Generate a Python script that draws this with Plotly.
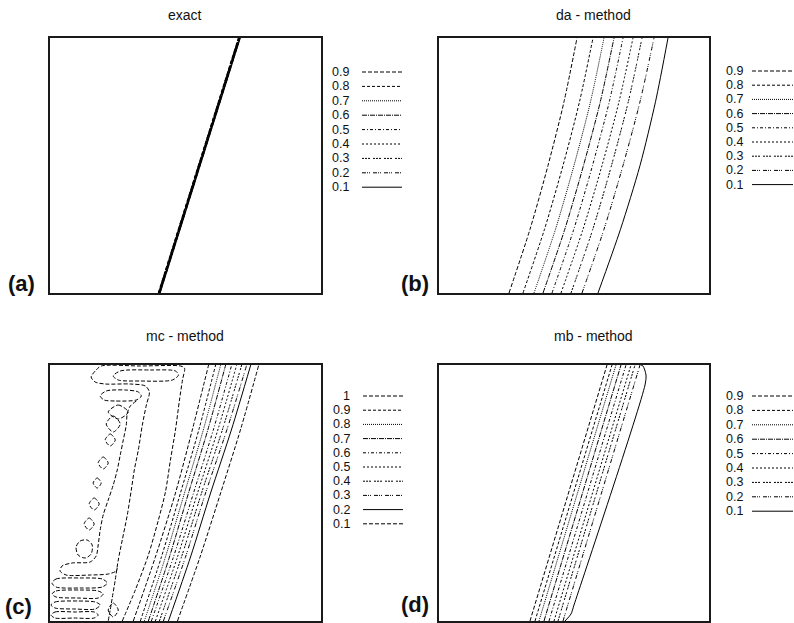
import plotly.graph_objects as go

W, H = 794, 623
FONT = "Liberation Sans, Arial, sans-serif"

# ---------------------------------------------------------------------------
# Contour levels and their line styles (the style sequence repeats after 9)
# ---------------------------------------------------------------------------
LEVELS = ["0.9", "0.8", "0.7", "0.6", "0.5", "0.4", "0.3", "0.2", "0.1"]
LEVELS_MC = ["1", "0.9", "0.8", "0.7", "0.6", "0.5", "0.4", "0.3", "0.2", "0.1"]
DASHES = [
    "4px,2px",
    "3px,2px",
    "1px,1px",
    "5px,1px,1px,1px",
    "3px,2px,1px,2px",
    "2px,2px",
    "2px,1px,2px,1px,2px,3px",
    "4px,1px,1px,1px,1px,3px",
    "solid",
]

# Grid extent of every panel
X_RANGE = [0, 270]
Y_RANGE = [0, 256]

# ---------------------------------------------------------------------------
# (a) exact solution: all levels collapse onto one sharp front
# ---------------------------------------------------------------------------
EXACT_Y = [0, 256]
EXACT_X = {
    "0.9": [108.0, 187.8],
    "0.8": [108.2, 188.0],
    "0.7": [108.4, 188.2],
    "0.6": [108.6, 188.4],
    "0.5": [108.8, 188.6],
    "0.4": [109.0, 188.8],
    "0.3": [109.2, 189.0],
    "0.2": [109.4, 189.2],
    "0.1": [109.6, 189.4],
}

# ---------------------------------------------------------------------------
# (b) da - method: smeared front
# ---------------------------------------------------------------------------
DA_Y = [0, 64, 128, 192, 256]
DA_X = {
    "0.9": [70, 91, 109, 125, 138],
    "0.8": [84, 105.5, 124, 140.5, 154],
    "0.7": [95, 116.5, 135, 151.5, 165],
    "0.6": [104, 125.8, 144.5, 161.3, 175],
    "0.5": [113, 134.8, 153.5, 170.3, 184],
    "0.4": [122, 144, 163, 180, 194],
    "0.3": [132, 153.8, 172.5, 189.3, 203],
    "0.2": [143, 165, 184, 201, 215],
    "0.1": [159, 181.5, 201, 216.5, 229],
}

# ---------------------------------------------------------------------------
# (c) mc - method: front band plus overshoot (level 1) islands on the left
# ---------------------------------------------------------------------------
MC_Y = [0, 64, 128, 192, 256]
MC_X = {
    "0.9": [90, 111, 130, 148.5, 165],
    "0.8": [94, 115, 134, 153, 170],
    "0.7": [98, 119, 138, 157.5, 175],
    "0.6": [101, 123, 143, 163, 181],
    "0.5": [105, 127, 147, 167.5, 186],
    "0.4": [109, 131, 151, 172, 191],
    "0.3": [113, 135, 155, 176.5, 196],
    "0.2": [118, 140, 160, 181, 200],
    "0.1": [127, 149.5, 170, 190, 208],
}
# level-1 contour pieces: (x list, y list)
MC_ONE = [
    # long line next to the band
    ([83, 105, 125, 142, 158], [0, 64, 128, 192, 256]),
    # right boundary, along the top edge, back down on the left
    ([72, 85, 98, 108, 115, 120, 125, 129, 132, 134, 130, 90, 51, 46, 41, 45, 55, 80, 95, 99,
      96, 92, 88, 84, 81, 77, 72, 68, 65, 62, 60, 58],
     [0, 31, 66, 101, 129, 161, 191, 221, 241, 253, 255, 255, 255, 251, 244, 239, 237, 237, 235, 229,
      216, 196, 171, 151, 131, 106, 81, 61, 41, 23, 11, 0]),
    # elongated island under the top edge
    ([63, 70, 100, 125, 128, 122, 90, 68, 63], [245, 250, 251, 250, 246, 241, 240, 241, 245]),
    # second elongated island
    ([50, 56, 75, 88, 91, 86, 65, 54, 50], [225, 230, 231, 229, 225, 221, 220, 221, 225]),
    # wavy boundary of the island column
    ([86, 80, 77, 76, 73, 70, 67, 63, 58, 53, 50, 48, 46, 40, 22, 12, 10, 16, 40, 58, 66, 67],
     [220, 215, 208, 196, 181, 166, 151, 136, 121, 106, 91, 76, 65, 59, 58, 55, 50, 46, 46, 47, 50, 53]),
    # crossing pair
    ([58, 68, 78, 68, 58], [209, 216, 209, 202, 209]),
    ([56, 63, 70, 63, 56], [197, 205, 197, 189, 197]),
    # small diamonds
    ([55, 60, 65, 60, 55], [181, 187, 181, 175, 181]),
    ([48, 53, 58, 53, 48], [158, 164, 158, 152, 158]),
    ([43, 47, 51, 47, 43], [138, 143, 138, 133, 138]),
    ([39, 44, 49, 44, 39], [117, 123, 117, 111, 117]),
    ([34, 39, 44, 39, 34], [97, 103, 97, 91, 97]),
    ([26, 30, 37, 42, 41, 35, 28, 26], [74, 80, 81, 76, 67, 63, 66, 74]),
    # stacked islands along the bottom
    ([2, 6, 30, 52, 57, 52, 30, 6, 2], [38, 42, 43, 42, 38, 34, 33, 34, 38]),
    ([2, 6, 30, 48, 53, 48, 28, 6, 2], [27, 30, 31, 30, 27, 23, 23, 24, 27]),
    ([1, 5, 28, 45, 50, 45, 25, 5, 1], [16, 19, 20, 19, 16, 12, 12, 13, 16]),
    ([1, 5, 25, 44, 48, 44, 24, 5, 1], [6, 9, 9, 9, 6, 3, 3, 3, 6]),
    ([58, 63, 68, 63, 58], [11, 18, 11, 4, 11]),
]

# ---------------------------------------------------------------------------
# (d) mb - method: narrow front
# ---------------------------------------------------------------------------
MB_Y = [0, 256]
MB_X = {
    "0.9": [91, 168],
    "0.8": [96, 173],
    "0.7": [100, 177],
    "0.6": [105, 182],
    "0.5": [110, 187],
    "0.4": [115, 192],
    "0.3": [119, 196],
    "0.2": [124, 201],
}
MB_OUTER_X = [126, 132, 135, 206, 207, 204, 202]
MB_OUTER_Y = [0, 7, 16, 236, 246, 255, 256]

# ---------------------------------------------------------------------------
# Panel placement (pixels: left, right, top, bottom)
# ---------------------------------------------------------------------------
PANELS = {
    "a": (50, 321, 38, 293),
    "b": (439, 709, 38, 293),
    "c": (50, 321, 365, 621),
    "d": (439, 709, 365, 621),
}
AXIS_IDS = {"a": "", "b": "2", "c": "3", "d": "4"}

fig = go.Figure()


def add_line(panel, xs, ys, dash, width=1.0):
    n = AXIS_IDS[panel]
    fig.add_trace(go.Scatter(
        x=xs, y=ys, mode="lines",
        xaxis="x" + n, yaxis="y" + n,
        line=dict(color="black", width=width, dash=dash, shape="spline", smoothing=0.8),
        hoverinfo="skip", showlegend=False,
    ))


for i, lev in enumerate(LEVELS):
    add_line("a", EXACT_X[lev], EXACT_Y, DASHES[i], width=1.3)
    add_line("b", DA_X[lev], DA_Y, DASHES[i])

# (c): level "1" pieces joined into one trace, then the remaining levels
one_x, one_y = [], []
for xs, ys in MC_ONE:
    one_x += xs + [None]
    one_y += ys + [None]
add_line("c", one_x, one_y, DASHES[0])
for i, lev in enumerate(LEVELS_MC[1:], start=1):
    add_line("c", MC_X[lev], MC_Y, DASHES[i % 9])

# (d)
for i, lev in enumerate(LEVELS[:-1]):
    add_line("d", MB_X[lev], MB_Y, DASHES[i])
add_line("d", MB_OUTER_X, MB_OUTER_Y, DASHES[8])

# ---------------------------------------------------------------------------
# Axes
# ---------------------------------------------------------------------------
layout = dict(
    width=W, height=H,
    margin=dict(l=0, r=0, t=0, b=0),
    paper_bgcolor="white", plot_bgcolor="white",
    showlegend=False,
)
for key, (l, r, t, b) in PANELS.items():
    n = AXIS_IDS[key]
    common = dict(showticklabels=False, ticks="", showgrid=False, zeroline=False,
                  showline=True, mirror=True, linecolor="#1a1a1a", linewidth=1.5,
                  fixedrange=True)
    layout["xaxis" + n] = dict(domain=[l / W, r / W], range=X_RANGE,
                               anchor="y" + n, **common)
    layout["yaxis" + n] = dict(domain=[(H - b) / H, (H - t) / H], range=Y_RANGE,
                               anchor="x" + n, **common)
fig.update_layout(**layout)

# ---------------------------------------------------------------------------
# Titles, panel letters and level keys
# ---------------------------------------------------------------------------
def px_x(v):
    return v / W


def px_y(v):
    return 1 - v / H


TITLES = [("exact", 185, 15), ("da - method", 593, 15),
          ("mc - method", 185, 336), ("mb - method", 593, 336)]
for text, x, y in TITLES:
    fig.add_annotation(x=px_x(x), y=px_y(y), xref="paper", yref="paper", text=text,
                       showarrow=False, xanchor="center", yanchor="middle",
                       font=dict(family=FONT, size=14, color="#111"))

LETTERS = [("(a)", 6, 284), ("(b)", 399, 284), ("(c)", 3, 606), ("(d)", 399, 604)]
for text, x, y in LETTERS:
    fig.add_annotation(x=px_x(x), y=px_y(y), xref="paper", yref="paper",
                       text="<b>%s</b>" % text, showarrow=False,
                       xanchor="left", yanchor="middle",
                       font=dict(family=FONT, size=22, color="#111"))

# (levels, label right edge, sample start, sample end, first row, row step)
KEYS = [
    (LEVELS, 351, 362, 402, 72, 14.4),
    (LEVELS, 745, 752, 793, 71, 14.2),
    (LEVELS_MC, 352, 363, 403, 396, 14.2),
    (LEVELS, 745, 752, 793, 396, 14.4),
]
for levels, lab_r, s0, s1, row0, step in KEYS:
    for i, lev in enumerate(levels):
        yy = row0 + i * step
        fig.add_annotation(x=px_x(lab_r), y=px_y(yy), xref="paper", yref="paper",
                           text=lev, showarrow=False, xanchor="right", yanchor="middle",
                           font=dict(family=FONT, size=12.5, color="#111"))
        fig.add_shape(type="line", xref="paper", yref="paper",
                      x0=px_x(s0), x1=px_x(s1), y0=px_y(yy), y1=px_y(yy),
                      line=dict(color="black", width=1, dash=DASHES[i % 9]))

fig.write_html("out.html")
